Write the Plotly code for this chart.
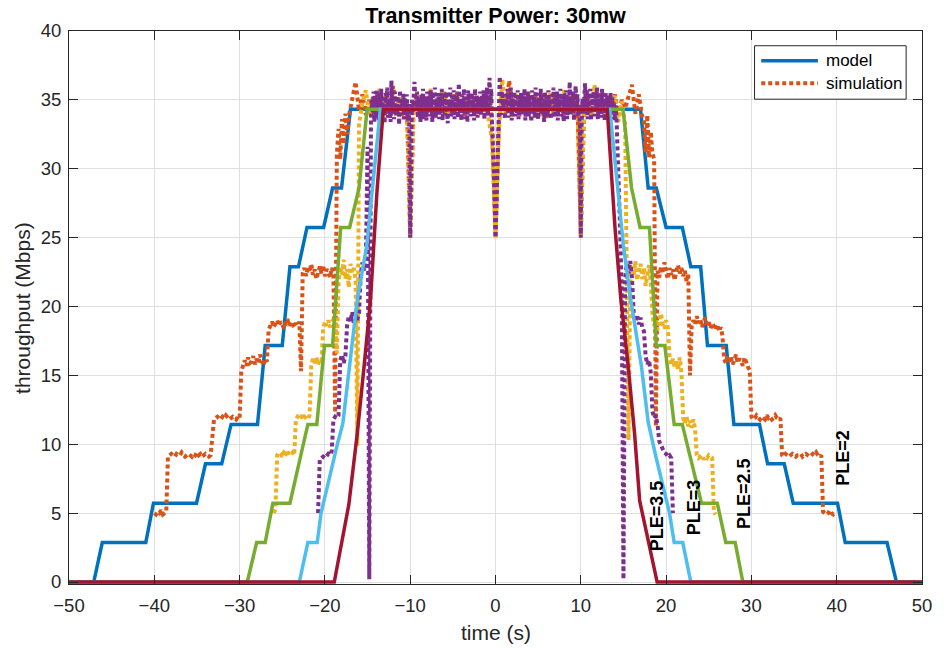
import numpy as np
import plotly.graph_objects as go

# ---------------- model curves (time in s, throughput in Mbps) ----------------
model_ple2_t = [-50, -47.1, -46.1, -41.0, -40.1, -35.05, -34.0, -32.1, -31.0, -27.9,
                -27.0, -25.0, -24.1, -23.1, -22.1, -20.15, -19.1, -18.05, -17.0,
                17.0, 17.9, 18.85, 20.0, 21.9, 22.9, 24.05, 24.85, 27.05, 27.95,
                30.95, 31.9, 33.85, 34.9, 40.1, 41.0, 45.9, 47.0, 50]
model_ple2_r = [0, 0, 2.86, 2.86, 5.72, 5.72, 8.58, 8.58, 11.44, 11.44,
                17.16, 17.16, 22.88, 22.88, 25.74, 25.74, 28.6, 28.6, 34.32,
                34.32, 28.6, 28.6, 25.74, 25.74, 22.88, 22.88, 17.16, 17.16, 11.44,
                11.44, 8.58, 8.58, 5.72, 5.72, 2.86, 2.86, 0, 0]

model_ple25_t = [-50, -29.1, -28.0, -27.0, -26.1, -24.1, -22.0, -20.95, -20.05, -19.1,
                 -18.15, -17.1, -16.0, -15.05, 14.95, 15.95, 16.95, 18.05, 18.85,
                 19.85, 20.95, 21.9, 24.15, 26.0, 27.0, 28.1, 29.0, 50]
model_ple25_r = [0, 0, 2.86, 2.86, 5.72, 5.72, 11.44, 11.44, 17.16, 17.16,
                 25.74, 25.74, 28.6, 34.32, 34.32, 28.6, 25.74, 25.74, 17.16,
                 17.16, 11.44, 11.44, 5.72, 5.72, 2.86, 2.86, 0, 0]

model_ple3_t = [-50, -23.0, -22.0, -20.9, -20.45, -19.5, -18.5, -17.9, -17.1, -16.2,
                -15.1, -14.6, -13.5, 13.4, 14.4, 15.0, 15.9, 17.1, 17.9, 18.8,
                20.4, 20.95, 21.95, 22.9, 50]
model_ple3_r = [0, 0, 2.86, 2.86, 5.0, 7.6, 10.1, 11.5, 15.6, 20.5,
                24.4, 27.6, 34.32, 34.32, 28.3, 24.4, 20.3, 15.7, 11.6, 9.1,
                5.0, 2.86, 2.86, 0, 0]

model_ple35_t = [-50, -18.9, -17.2, -16.2, -15.4, -14.65, -13.9, -13.15,
                 13.1, 14.0, 14.7, 15.55, 16.3, 16.9, 18.95, 50]
model_ple35_r = [0, 0, 5.6, 10.8, 15.7, 20.5, 28.3, 34.32,
                 34.32, 25.8, 20.5, 15.7, 10.8, 5.9, 0, 0]

# ---------------- simulation runs: (start, end) of each run + its samples ----------------
sim_ple2_spans = [(-40.0, -38.6), (-38.4, -33.4), (-33.2, -30.0), (-29.8, -26.8),
                  (-26.6, -23.0), (-22.8, -22.8), (-22.6, -19.0), (-18.8, -18.8),
                  (-18.6, -17.4), (-17.2, 17.2), (17.4, 18.6), (18.8, 18.8),
                  (19.0, 22.6), (22.8, 22.8), (23.0, 26.6), (26.8, 29.8),
                  (30.0, 33.4), (33.6, 38.2), (38.4, 39.8)]
sim_ple2_runs = [
    [5.0, 4.9, 5.1, 5.0, 5.2, 4.9, 5.0, 5.1],
    [9.1, 9.2, 9.3, 9.2, 9.1, 9.3, 9.2, 9.2, 9.4, 9.2, 9.1, 9.2, 9.3, 9.2, 9.1,
     9.3, 9.2, 9.4, 9.2, 9.3, 9.1, 9.2, 9.3, 9.2, 9.1, 9.2],
    [10.4, 11.8, 11.9, 12.0, 11.9, 11.8, 12.0, 11.9, 12.1, 11.9, 11.8, 11.9, 12.0,
     11.9, 11.8, 12.0, 11.9],
    [15.3, 15.8, 16.1, 15.7, 16.3, 15.9, 16.0, 16.4, 15.8, 16.2, 15.9, 16.5, 16.0,
     15.7, 16.2, 16.0],
    [18.3, 18.7, 18.9, 18.5, 18.8, 19.0, 18.6, 18.9, 18.7, 18.4, 18.8, 19.1, 18.6,
     18.9, 18.7, 18.5, 18.8, 18.6, 18.9],
    [15.3],
    [22.4, 22.8, 22.2, 22.9, 22.5, 23.1, 22.3, 22.7, 22.0, 22.6, 22.9, 22.4, 23.0,
     22.2, 22.7, 22.5, 22.1, 22.8, 22.4],
    [12.3],
    [31.0, 32.9, 30.7, 33.6, 31.8, 34.0, 32.5],
    [33.8, 35.1, 36.3, 34.2, 35.4, 33.9, 35.0, 34.1, 35.6, 33.7, 34.9, 35.3, 33.9,
     36.0, 34.4, 35.1, 33.6, 34.8, 25.1, 34.6, 35.2, 33.8, 35.0, 34.2, 35.5, 33.7,
     34.9, 35.3, 34.0, 35.1, 33.9, 35.4, 34.3, 35.0, 33.8, 35.2, 34.1, 35.6, 33.9,
     35.0, 34.4, 35.2, 33.2, 25.0, 33.4, 35.4, 34.0, 36.4, 34.2, 35.0, 33.8, 35.3,
     34.1, 35.0, 33.9, 35.2, 34.3, 35.5, 33.7, 34.9, 35.1, 34.0, 35.4, 33.8, 34.8,
     35.3, 34.0, 34.9, 25.2, 34.7, 35.2, 33.9, 35.0, 34.3, 35.6, 33.8, 35.1, 34.2,
     35.4, 33.9, 35.0, 34.4, 35.3, 36.1, 34.0, 35.4, 33.8],
    [33.4, 31.2, 33.9, 30.8, 32.7, 31.1, 30.7],
    [11.3],
    [22.6, 22.1, 22.9, 22.4, 23.2, 22.5, 22.0, 22.8, 22.3, 22.7, 21.9, 22.6, 23.0,
     22.4, 22.8, 22.2, 22.6, 21.8, 22.4],
    [15.0],
    [18.6, 19.0, 18.7, 19.3, 18.8, 19.1, 18.5, 18.9, 19.2, 18.7, 18.9, 18.4, 18.8,
     18.6, 18.3, 18.7, 18.2, 18.5, 17.9],
    [16.2, 15.9, 16.4, 16.0, 16.3, 15.8, 16.1, 16.5, 15.9, 16.2, 16.0, 15.7, 16.3,
     15.9, 15.6, 15.4],
    [12.0, 11.8, 11.9, 12.1, 11.9, 11.8, 12.0, 11.9, 11.8, 12.1, 11.9, 12.0, 11.8,
     11.9, 12.1, 11.9, 11.8, 11.9],
    [9.2, 9.1, 9.3, 9.2, 9.1, 9.2, 9.3, 9.2, 9.1, 9.2, 9.2, 9.3, 9.1, 9.2, 9.3, 9.2,
     9.1, 9.2, 9.3, 9.2, 9.4, 9.2, 9.1, 9.2],
    [5.1, 5.0, 4.9, 5.0, 5.2, 5.0, 4.9, 5.0],
]

sim_ple25_spans = [(-26.0, -25.8), (-25.6, -23.6), (-23.4, -21.8), (-21.6, -20.4),
                   (-20.2, -18.8), (-18.6, -18.6), (-18.4, -16.4), (-16.2, -16.2),
                   (-16.0, 15.2), (15.4, 15.6), (15.8, 18.2), (18.4, 20.2),
                   (20.4, 21.8), (22.0, 23.4), (23.6, 25.4), (25.6, 25.8)]
sim_ple25_runs = [
    [5.0, 5.3],
    [9.2, 9.4, 9.3, 9.1, 9.4, 9.3, 9.5, 9.2, 9.3, 9.4, 9.2],
    [11.8, 12.0, 11.9, 12.1, 11.8, 12.0, 11.9, 11.8, 12.1],
    [15.7, 16.2, 15.9, 16.3, 15.8, 16.1, 16.0],
    [18.4, 18.9, 18.6, 19.0, 18.5, 18.8, 19.1, 18.7],
    [16.6],
    [21.8, 22.9, 22.3, 23.4, 22.0, 22.7, 21.4, 23.1, 22.5, 22.8, 21.9],
    [9.9],
    [33.2, 34.8, 35.7, 33.9, 35.2, 34.1, 35.8, 33.6, 35.0, 34.3, 35.5, 33.8, 35.2,
     34.0, 35.0, 25.0, 34.2, 35.4, 33.7, 35.1, 34.4, 35.8, 33.9, 35.2, 34.0, 35.6,
     33.8, 35.0, 34.5, 35.3, 33.7, 35.1, 34.2, 35.5, 33.9, 35.0, 34.3, 35.4, 33.6,
     32.0, 25.0, 32.8, 36.5, 34.0, 35.2, 33.8, 35.4, 34.1, 35.0, 33.9, 35.6, 34.2,
     35.1, 33.7, 35.3, 34.0, 35.5, 33.8, 35.0, 34.4, 35.7, 33.9, 35.2, 34.1, 35.0,
     25.1, 34.3, 35.4, 33.8, 36.1, 34.2, 35.0, 33.7, 35.3, 34.0, 35.3, 33.4, 34.9,
     33.2],
    [24.0, 10.3],
    [21.6, 22.9, 22.2, 23.3, 21.9, 22.6, 23.1, 22.0, 22.8, 21.5, 22.4, 23.0, 21.8],
    [19.4, 18.6, 19.0, 18.3, 18.9, 19.5, 18.7, 18.4, 19.0, 18.5],
    [16.4, 15.8, 16.2, 15.6, 16.0, 15.4, 16.3, 15.2],
    [11.9, 11.5, 12.0, 11.3, 11.7, 11.2, 11.8, 11.1],
    [9.2, 9.0, 9.1, 9.2, 8.9, 9.1, 9.0, 9.2, 9.1, 9.0],
    [5.1, 4.9],
]

sim_ple3_spans = [(-20.8, -20.8), (-20.6, -19.2), (-19.0, -18.4), (-18.2, -17.6),
                  (-17.4, -16.0), (-15.8, -15.2), (-15.0, -14.8), (-14.6, 14.2),
                  (14.4, 14.8), (15.0, 15.0), (15.2, 16.0), (16.2, 17.4),
                  (17.6, 18.2), (18.4, 19.0), (19.2, 20.6), (20.8, 20.8)]
sim_ple3_runs = [
    [5.0],
    [8.9, 9.0, 9.1, 9.0, 9.2, 9.3, 9.2, 9.5],
    [11.8, 12.0, 11.9, 12.1],
    [16.1, 16.5, 15.9, 16.4],
    [18.6, 19.3, 18.9, 19.6, 18.7, 19.4, 19.0, 19.5],
    [22.3, 23.2, 22.6, 23.4],
    [31.6, 0.2],
    [33.6, 35.0, 34.1, 35.6, 33.4, 35.3, 33.9, 35.7, 34.3, 33.5,
     35.4, 34.0, 35.8, 33.6, 35.1, 34.4, 33.3, 35.5, 34.2, 35.9,
     33.7, 35.0, 34.6, 33.4, 36.4, 34.0, 35.2, 33.6, 35.6, 34.1,
     33.8, 35.3, 34.5, 33.2, 35.7, 33.9, 35.0, 34.2, 35.5, 33.6,
     35.1, 34.0, 35.4, 33.5, 34.7, 33.0, 25.0, 33.1, 35.0, 34.1,
     35.8, 36.3, 35.2, 34.2, 35.6, 33.7, 35.1, 34.5, 33.4, 35.4,
     34.0, 35.8, 33.6, 35.2, 34.4, 33.5, 35.6, 34.1, 35.0, 33.8,
     35.7, 34.2, 33.4, 35.3, 34.6, 35.9, 33.7, 35.1, 34.0, 35.5,
     33.6, 35.2, 34.3, 35.8, 33.5, 34.9, 35.4, 33.9, 35.6, 34.1,
     33.3, 35.0, 34.5, 35.9, 33.8, 35.3, 34.0, 35.7, 33.6, 35.1,
     34.4, 35.6, 33.7, 36.2, 34.1, 35.0, 33.5, 35.4, 34.2, 35.8,
     33.6, 35.2, 34.6, 33.4, 35.7, 34.0, 35.3, 33.8, 35.5, 34.3,
     35.0, 33.5, 35.8, 34.1, 35.4, 33.7, 35.1, 34.5, 35.6, 33.9,
     35.3, 34.2, 35.7, 33.6, 35.0, 34.4, 35.9, 33.8, 35.2, 36.6,
     34.6, 35.8, 33.2, 32.0, 30.0, 27.8, 25.0, 27.0, 29.5, 32.2,
     34.0, 36.7, 35.2, 33.9, 35.6, 34.2, 35.0, 33.6, 35.4, 34.1,
     35.8, 33.7, 35.2, 34.5, 35.9, 33.5, 35.1, 34.2, 35.6, 33.8,
     35.3, 34.0, 35.7, 33.6, 35.0, 34.4, 35.5, 33.9, 35.2, 34.3,
     35.8, 33.5, 35.1, 34.1, 35.6, 33.8, 35.3, 34.6, 33.4, 35.7,
     34.0, 35.2, 33.7, 35.9, 34.3, 35.0, 33.6, 35.5, 34.2, 35.8,
     33.9, 35.1, 34.5, 33.4, 35.6, 34.0, 35.3, 33.8, 35.7, 34.4,
     35.0, 33.6, 35.4, 34.1, 35.9, 33.7, 35.2, 34.3, 35.6, 33.5,
     35.1, 34.2, 35.8, 33.8, 35.3, 34.6, 33.4, 35.5, 34.0, 35.7,
     33.6, 35.2, 34.4, 36.3, 33.9, 35.0, 34.1, 35.6, 33.5, 35.3,
     36.0, 34.2, 35.4, 33.8, 34.6, 33.0, 25.0, 33.2, 35.1, 34.0,
     35.5, 36.2, 34.3, 35.7, 33.6, 35.2, 34.0, 35.8, 33.5, 35.1,
     34.4, 35.6, 33.8, 35.3, 34.1, 35.9, 33.6, 35.0, 34.5, 35.4,
     33.7, 35.8, 34.2, 35.1, 33.5, 35.6, 34.0, 35.3, 33.8, 35.0,
     34.3, 35.5, 33.6, 35.2, 34.0, 34.8, 33.5, 34.6, 33.4],
    [30.2, 25.8, 21.0],
    [0.2],
    [22.0, 23.1, 22.4, 23.3, 22.1],
    [19.6, 18.9, 19.4, 18.7, 19.2, 18.5, 18.2],
    [16.4, 15.8, 16.1, 15.2],
    [12.4, 11.9, 12.1, 11.4],
    [10.2, 9.9, 9.7, 9.4, 9.3, 9.1, 9.2, 9.0],
    [5.0],
]

# curve labels: (text, time, throughput)
ple_labels = [("PLE=3.5", 18.87, 4.8), ("PLE=3", 23.3, 5.45),
              ("PLE=2.5", 29.15, 6.4), ("PLE=2", 40.7, 9.0)]

BLUE, ORANGE, YELLOW, PURPLE = "#0072BD", "#D95319", "#EDB120", "#7E2F8E"
GREEN, CYAN, CRIMSON = "#77AC30", "#4DBEEE", "#A2142F"
AX = "#262626"
FONT = "Liberation Sans, Arial, Helvetica, sans-serif"


def stitch(spans, runs):
    xs, ys = [], []
    for (t0, t1), vals in zip(spans, runs):
        xs.extend(np.linspace(t0, t1, len(vals)).tolist())
        ys.extend(vals)
    return xs, ys


def model(t, r, color):
    return go.Scatter(x=t, y=r, mode="lines", line=dict(color=color, width=3.5),
                      showlegend=False, hoverinfo="skip")


def sim(spans, runs, color):
    x, y = stitch(spans, runs)
    return go.Scatter(x=x, y=y, mode="lines",
                      line=dict(color=color, width=4, dash="4px,3px"),
                      showlegend=False, hoverinfo="skip")


fig = go.Figure()
fig.add_trace(model(model_ple2_t, model_ple2_r, BLUE))
fig.add_trace(sim(sim_ple2_spans, sim_ple2_runs, ORANGE))
fig.add_trace(sim(sim_ple25_spans, sim_ple25_runs, YELLOW))
fig.add_trace(sim(sim_ple3_spans, sim_ple3_runs, PURPLE))
fig.add_trace(model(model_ple25_t, model_ple25_r, GREEN))
fig.add_trace(model(model_ple3_t, model_ple3_r, CYAN))
fig.add_trace(model(model_ple35_t, model_ple35_r, CRIMSON))

for text, t, r in ple_labels:
    fig.add_annotation(x=t, y=r, text=f"<b>{text}</b>", textangle=-90, showarrow=False,
                       xanchor="center", yanchor="middle",
                       font=dict(family=FONT, size=18, color="black"))

# legend box drawn in data space, top-right corner of the axes
fig.add_shape(type="rect", x0=30.37, x1=48.14, y0=35.05, y1=38.93,
              line=dict(color=AX, width=1), fillcolor="white", layer="above")
fig.add_shape(type="line", x0=31.15, x1=37.8, y0=37.84, y1=37.84,
              line=dict(color=BLUE, width=3.5), layer="above")
fig.add_shape(type="line", x0=31.15, x1=37.8, y0=36.2, y1=36.2,
              line=dict(color=ORANGE, width=4, dash="4px,3px"), layer="above")
fig.add_annotation(x=38.47, y=37.84, text="model", showarrow=False,
                   xanchor="left", yanchor="middle",
                   font=dict(family=FONT, size=17, color="black"))
fig.add_annotation(x=38.47, y=36.2, text="simulation", showarrow=False,
                   xanchor="left", yanchor="middle",
                   font=dict(family=FONT, size=17, color="black"))

# axis titles (anchored below / left of the axes box)
fig.add_annotation(xref="paper", yref="paper", x=0.5, y=-0.0868, text="time (s)",
                   xanchor="center", yanchor="middle",
                   showarrow=False, font=dict(family=FONT, size=21, color=AX))
fig.add_annotation(xref="paper", yref="paper", x=-0.0546, y=0.5, text="throughput (Mbps)",
                   xanchor="center", yanchor="middle", textangle=-90,
                   showarrow=False, font=dict(family=FONT, size=21, color=AX))

axis_common = dict(ticks="inside", ticklen=9, tickwidth=1, tickcolor=AX,
                   showline=True, linecolor=AX, linewidth=1, mirror="ticks",
                   showgrid=True, gridcolor="#dfdfdf", gridwidth=1, zeroline=False,
                   tickfont=dict(family=FONT, size=18.5, color=AX))
fig.update_xaxes(range=[-50, 50], tickvals=list(range(-50, 51, 10)),
                 ticklabelstandoff=5, **axis_common)
# a little room below zero so the zero-throughput lines are not clipped in half
fig.update_yaxes(range=[-0.145, 40], tickvals=list(range(0, 41, 5)),
                 ticklabelstandoff=3, **axis_common)

fig.update_layout(
    width=944, height=648,
    margin=dict(l=69, r=14, t=31, b=64),
    plot_bgcolor="white", paper_bgcolor="white",
    showlegend=False,
    font=dict(family=FONT, color=AX),
    title=dict(text="<b>Transmitter Power: 30mw</b>", x=0.5, xref="paper",
               y=1 - 15 / 648, yref="container", yanchor="middle", xanchor="center",
               font=dict(family=FONT, size=21.5, color="black")),
)

fig.write_html("out.html")
